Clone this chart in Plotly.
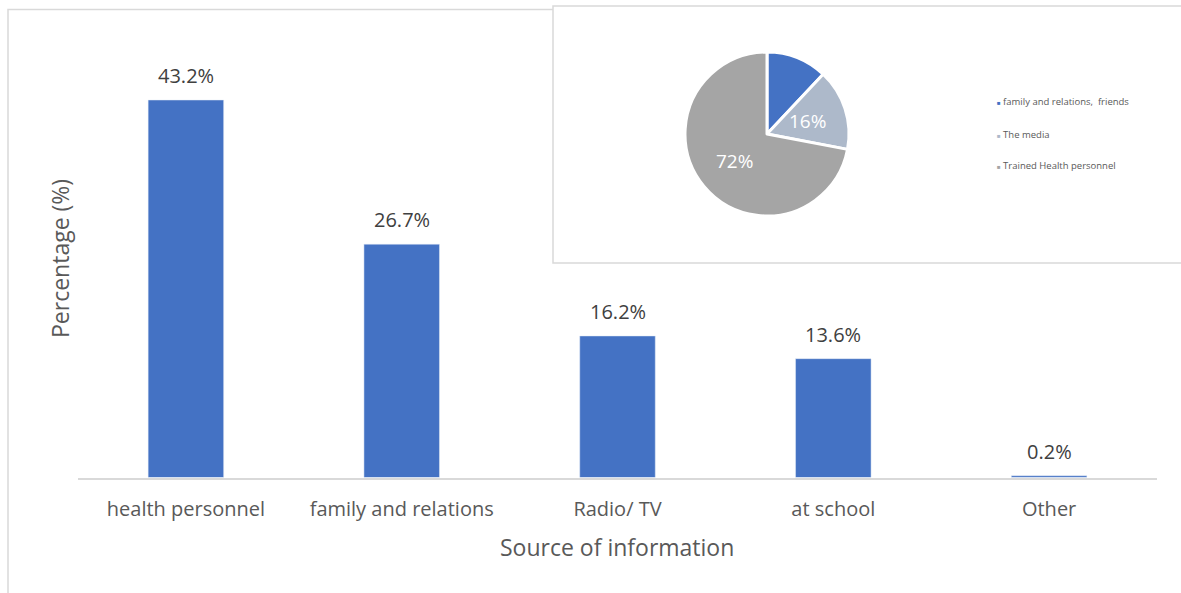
import math
import plotly.graph_objects as go

W, H = 1181, 593

# Bar chart: source of information
sources = ["health personnel", "family and relations", "Radio/ TV", "at school", "Other"]
shares = [43.2, 26.7, 16.2, 13.6, 0.2]

# Inset pie
pie_labels = ["family and relations,  friends", "The media", "Trained Health personnel"]
pie_values = [12, 16, 72]
pie_colors = ["#4472C4", "#ADB9CA", "#A5A5A5"]
pie_show_label = [False, True, True]

BAR_COLOR = "#4472C4"
FONT = "Open Sans"

# Pie placement (pixels)
PIE_CX, PIE_CY, PIE_R = 767, 134, 82


def px_x(x):
    return x / W


def px_y(y):
    return 1 - y / H


fig = go.Figure()

fig.add_trace(go.Bar(
    x=sources, y=shares, marker_color=BAR_COLOR, width=0.35,
    showlegend=False, hoverinfo="x+y",
))

for s, v in zip(sources, shares):
    fig.add_annotation(
        x=s, y=v, xref="x", yref="y", text=f"{v:.1f}%", showarrow=False,
        yanchor="bottom", yshift=9, font=dict(size=20, color="#404040", family=FONT),
    )

fig.add_trace(go.Pie(
    labels=pie_labels, values=pie_values, textinfo="none",
    marker=dict(colors=pie_colors, line=dict(color="white", width=3)),
    sort=False, direction="clockwise", rotation=0, showlegend=False,
    domain=dict(x=[px_x(PIE_CX - PIE_R), px_x(PIE_CX + PIE_R)],
                y=[px_y(PIE_CY + PIE_R), px_y(PIE_CY - PIE_R)]),
))

# Slice percentage labels, placed at each slice's mid-angle
total = sum(pie_values)
cum = 0
for v, show in zip(pie_values, pie_show_label):
    mid = (cum + v / 2) / total * 2 * math.pi
    cum += v
    if not show:
        continue
    rr = 0.52 * PIE_R
    lx = PIE_CX + rr * math.sin(mid)
    ly = PIE_CY - rr * math.cos(mid)
    fig.add_annotation(
        xref="paper", yref="paper", x=px_x(lx), y=px_y(ly),
        xanchor="center", yanchor="middle", showarrow=False,
        text=f"{v / total * 100:.0f}%",
        font=dict(size=19, color="white", family=FONT),
    )

# Outer chart frame and inset frame
fig.add_shape(type="rect", xref="paper", yref="paper",
              x0=px_x(8), x1=px_x(1200), y0=px_y(620), y1=px_y(9.5),
              line=dict(color="#D9D9D9", width=1.5), fillcolor="white", layer="below")
fig.add_shape(type="rect", xref="paper", yref="paper",
              x0=px_x(553), x1=px_x(1200), y0=px_y(263), y1=px_y(6),
              line=dict(color="#D9D9D9", width=1.5), fillcolor="white", layer="below")

# Pie legend
for i, (lab, col) in enumerate(zip(pie_labels, pie_colors)):
    fig.add_annotation(
        xref="paper", yref="paper", x=px_x(995), y=px_y(102 + 32 * i),
        xanchor="left", yanchor="middle", showarrow=False,
        text=f"<span style='color:{col};font-size:6px'>■</span> {lab}",
        font=dict(size=9.5, color="#595959", family=FONT),
    )

# Axis titles
fig.add_annotation(xref="paper", yref="paper", x=px_x(617), y=px_y(547),
                   xanchor="center", yanchor="middle",
                   text="Source of information", showarrow=False,
                   font=dict(size=23, color="#595959", family=FONT))
fig.add_annotation(xref="paper", yref="paper", x=px_x(60), y=px_y(259),
                   xanchor="center", yanchor="middle",
                   text="Percentage (%)", showarrow=False, textangle=-90,
                   font=dict(size=23, color="#595959", family=FONT))

TOP_PX = 20
scale = (477.5 - 100) / 43.2
y_max = (477.5 - TOP_PX) / scale

fig.update_layout(
    width=W, height=H, margin=dict(l=0, r=0, t=0, b=0),
    paper_bgcolor="white", plot_bgcolor="rgba(0,0,0,0)",
    xaxis=dict(domain=[px_x(78), px_x(1157)], showline=True, linecolor="#D9D9D9",
               linewidth=1.5, showgrid=False, zeroline=False, ticks="",
               ticklabelstandoff=13,
               tickfont=dict(size=20, color="#595959", family=FONT)),
    yaxis=dict(domain=[px_y(477.5), px_y(TOP_PX)], range=[0, y_max],
               showticklabels=False, showgrid=False, zeroline=False, showline=False),
)

fig.write_html("out.html")
